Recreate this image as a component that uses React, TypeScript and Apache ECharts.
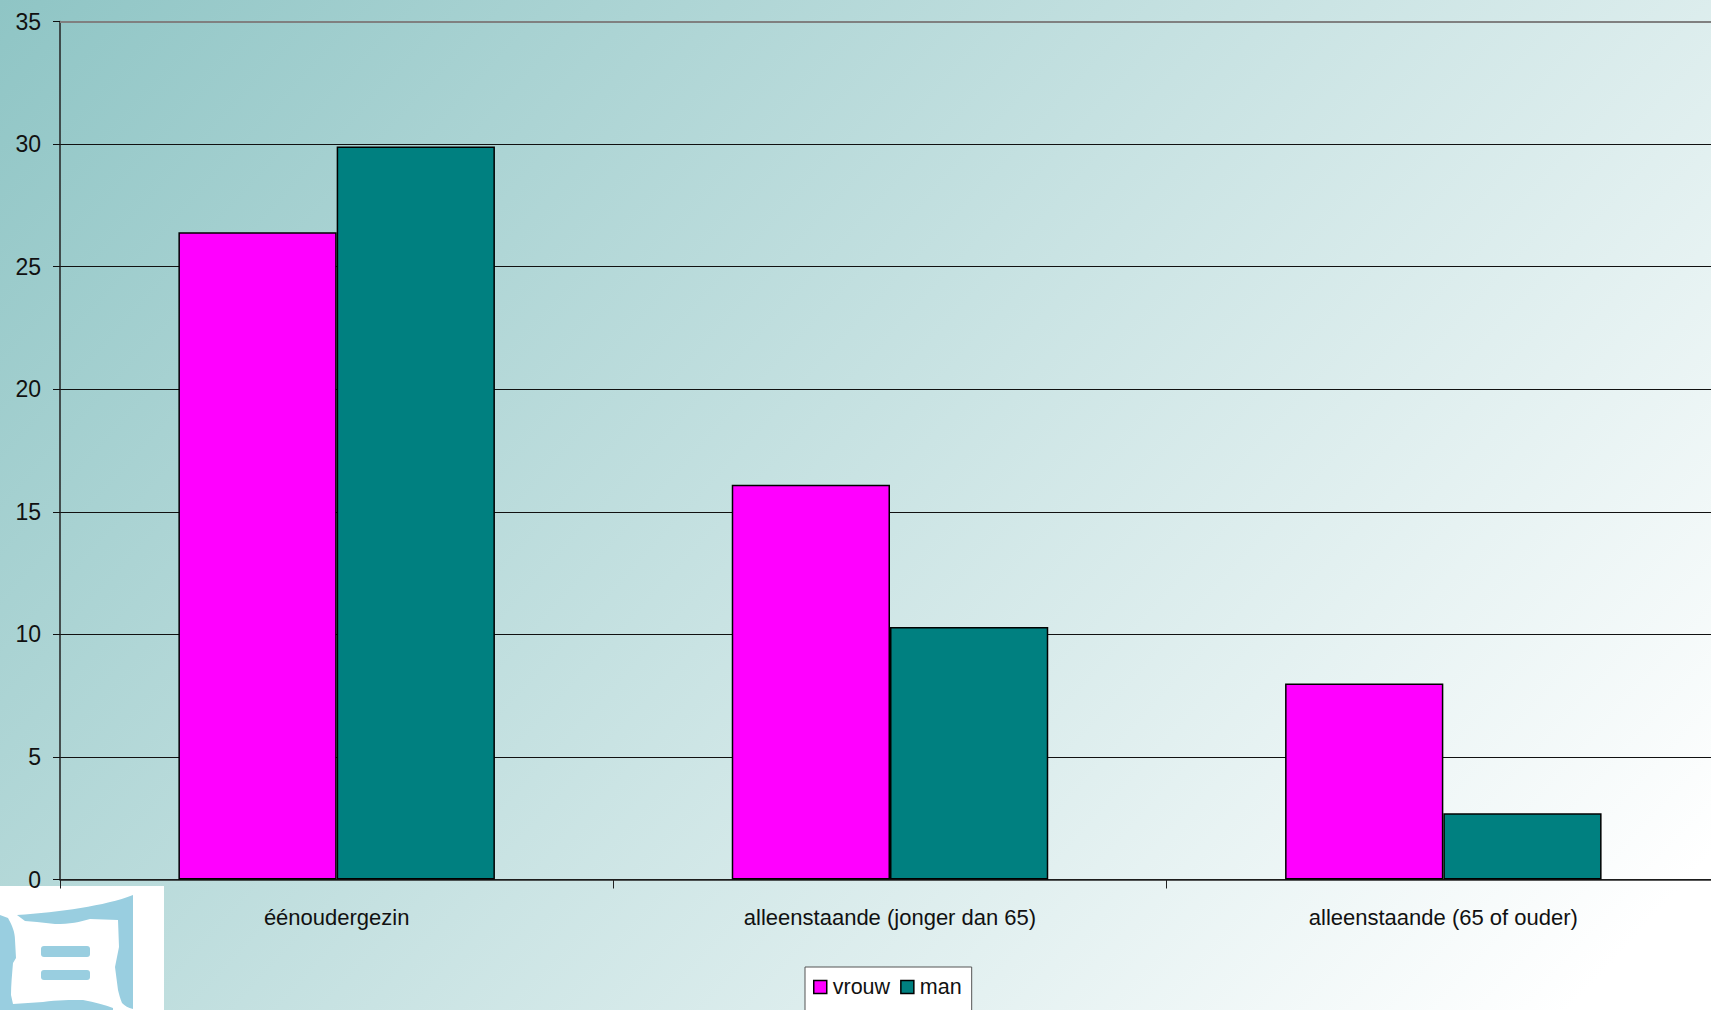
import React, { useEffect, useRef } from "react";
import * as echarts from "echarts";

const categories = ["éénoudergezin", "alleenstaande (jonger dan 65)", "alleenstaande (65 of ouder)"];
const vrouw = [26.4, 16.1, 8.0];
const man = [29.9, 10.3, 2.7];

const LOGO_FRAME =
  "M0 915 L8 918 C12 925 15 932 15 940 L16 958 L13 963 C12 975 11 985 11 995 L13 1004 L43 1002 C58 1000 70 1000 83 1000 C95 1002 105 1005 113 1008 L113 1010 L0 1010 Z " +
  "M17 915 C60 912 105 906 133 895 L133 1009 C128 1008 125 1006 122 1003 C120 998 119 994 118 990 L115 967 L119 947 L118 920 L90 919 C80 922 70 924 55 924 L37 922 L25 921 Z";
const LOGO_BAR_A = "M44 946 L87 946 Q90 946 90 949 L90 954 Q90 957 87 957 L44 957 Q41 957 41 954 L41 949 Q41 946 44 946 Z";
const LOGO_BAR_B = "M44 970 L87 970 Q90 970 90 973 L90 977 Q90 980 87 980 L44 980 Q41 980 41 977 L41 973 Q41 970 44 970 Z";
echarts.graphic.registerShape("logoFrame", echarts.graphic.extendPath(LOGO_FRAME, {}));
echarts.graphic.registerShape("logoBarA", echarts.graphic.extendPath(LOGO_BAR_A, {}));
echarts.graphic.registerShape("logoBarB", echarts.graphic.extendPath(LOGO_BAR_B, {}));

const TEXT = "#111111";
const FONT = "'Liberation Sans', Arial, sans-serif";

export default function App() {
  const ref = useRef<HTMLDivElement>(null);
  useEffect(() => {
    document.body.style.margin = "0";
    document.body.style.overflow = "hidden";
    const chart = echarts.init(ref.current!, undefined, { renderer: "svg" });
    chart.setOption({
      animation: false,
      backgroundColor: new echarts.graphic.LinearGradient(
        0,
        0,
        1360,
        1240,
        [
          { offset: 0, color: "#8FC5C5" },
          { offset: 1, color: "#FFFFFF" },
        ],
        true
      ),
      grid: { left: 60, top: 21.5, right: 0, height: 858 },
      legend: {
        left: 805,
        top: 967,
        padding: [9, 10, 30, 8],
        itemGap: 10,
        itemWidth: 13,
        itemHeight: 13,
        backgroundColor: "#FFFFFF",
        borderColor: "#555555",
        borderWidth: 1,
        textStyle: { fontFamily: FONT, fontSize: 21.5, color: TEXT, padding: [0, 0, 0, 1] },
        data: [
          { name: "vrouw", icon: "rect", itemStyle: { borderColor: "#000", borderWidth: 1.5 } },
          { name: "man", icon: "rect", itemStyle: { borderColor: "#000", borderWidth: 1.5 } },
        ],
      },
      xAxis: {
        type: "category",
        data: categories,
        axisLine: { show: true, lineStyle: { color: "#222", width: 1.5 } },
        axisTick: { show: true, alignWithLabel: false, length: 9, lineStyle: { color: "#222", width: 1 } },
        axisLabel: { fontFamily: FONT, fontSize: 22, color: TEXT, margin: 27 },
      },
      yAxis: {
        type: "value",
        min: 0,
        max: 35,
        interval: 5,
        axisLine: { show: true, lineStyle: { color: "#222", width: 1.5 } },
        axisTick: { show: true, length: 7, lineStyle: { color: "#111", width: 1 } },
        axisLabel: { fontFamily: FONT, fontSize: 23, color: TEXT, margin: 19 },
        splitLine: { show: true, lineStyle: { color: "#111", width: 1 } },
      },
      series: [
        {
          name: "vrouw",
          type: "bar",
          data: vrouw,
          barGap: "0%",
          barCategoryGap: "42.8%",
          itemStyle: { color: "#FF00FF", borderColor: "#000", borderWidth: 1.5 },
          markLine: {
            silent: true,
            symbol: "none",
            label: { show: false },
            lineStyle: { color: "#808080", width: 2, type: "solid" },
            data: [{ yAxis: 35 }],
          },
        },
        {
          name: "man",
          type: "bar",
          data: man,
          itemStyle: { color: "#008080", borderColor: "#000", borderWidth: 1.5 },
        },
      ],
      graphic: [
        {
          type: "group",
          x: 0,
          y: 0,
          z: 100,
          children: [
            { type: "rect", shape: { x: 0, y: 886, width: 164, height: 124 }, style: { fill: "#FFFFFF" } },
            { type: "logoFrame", style: { fill: "#99CEE0" } },
            { type: "logoBarA", style: { fill: "#99CEE0" } },
            { type: "logoBarB", style: { fill: "#99CEE0" } },
          ],
        },
      ],
    });
    return () => chart.dispose();
  }, []);
  return (
    <div style={{ width: 1711, height: 1010, overflow: "hidden" }}>
      <div ref={ref} style={{ width: 1720, height: 1010 }} />
    </div>
  );
}
